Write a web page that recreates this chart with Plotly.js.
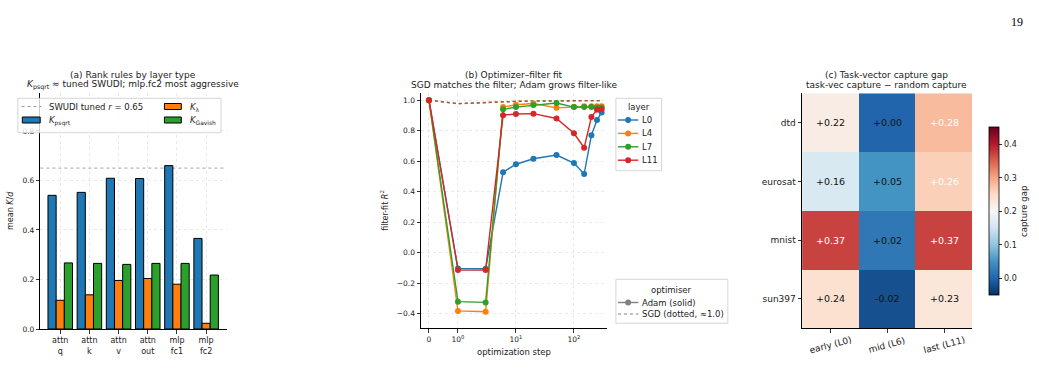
<!DOCTYPE html>
<html>
<head>
<meta charset="utf-8">
<script src="https://cdn.plot.ly/plotly-3.0.1.min.js"></script>
<style>
  html, body { margin: 0; padding: 0; background: #fff; }
  #fig { width: 1039px; height: 379px; }
</style>
</head>
<body>
<div id="fig"></div>
<script>
// ---------- (a) rank rules by layer type ----------
const layerGroup = ['attn', 'attn', 'attn', 'attn', 'mlp', 'mlp'];
const layerPart  = ['q', 'k', 'v', 'out', 'fc1', 'fc2'];
const kPsqrt  = [0.540, 0.552, 0.609, 0.608, 0.660, 0.366];
const kLambda = [0.116, 0.138, 0.196, 0.204, 0.181, 0.023];
const kGavish = [0.267, 0.265, 0.261, 0.265, 0.265, 0.218];
const swudiTuned = 0.65;

// ---------- (b) optimizer-filter fit ----------
const steps = [0, 1, 3, 6, 10, 20, 50, 100, 150, 200, 250, 300];
const layerNames = ['L0', 'L4', 'L7', 'L11'];
const adamL0  = [1.0, -0.105, -0.106, 0.527, 0.580, 0.616, 0.640, 0.588, 0.516, 0.770, 0.870, 0.920];
const adamL4  = [1.0, -0.383, -0.388, 0.955, 0.970, 0.978, 0.950, 0.957, 0.960, 0.960, 0.960, 0.960];
const adamL7  = [1.0, -0.322, -0.327, 0.940, 0.955, 0.968, 0.982, 0.955, 0.955, 0.955, 0.953, 0.953];
const adamL11 = [1.0, -0.115, -0.115, 0.902, 0.910, 0.912, 0.880, 0.783, 0.688, 0.890, 0.938, 0.940];
const sgdL0   = [1.0, 0.979, 0.985, 0.990, 0.993, 0.995, 0.996, 0.997, 0.997, 0.998, 0.998, 0.998];
const sgdL4   = [1.0, 0.977, 0.984, 0.990, 0.993, 0.995, 0.996, 0.997, 0.997, 0.997, 0.998, 0.998];
const sgdL7   = [1.0, 0.978, 0.985, 0.991, 0.994, 0.995, 0.996, 0.997, 0.998, 0.998, 0.998, 0.998];
const sgdL11  = [1.0, 0.976, 0.984, 0.990, 0.993, 0.994, 0.996, 0.997, 0.997, 0.997, 0.998, 0.998];
const stepTicks = [0, 1, 10, 100];
const stepTickText = ['0', '10<sup>0</sup>', '10<sup>1</sup>', '10<sup>2</sup>'];
const optimiserNames = ['Adam (solid)', 'SGD (dotted, ≈1.0)'];

// ---------- (c) task-vector capture gap ----------
const datasets = ['dtd', 'eurosat', 'mnist', 'sun397'];
const depths = ['early (L0)', 'mid (L6)', 'last (L11)'];
const captureGap = [
  [0.22, 0.00, 0.28],
  [0.16, 0.05, 0.26],
  [0.37, 0.02, 0.37],
  [0.24, -0.02, 0.23]
];

// ---------- helpers ----------
const W = 1039, H = 379;
const px = v => v / W;          // pixel x -> paper
const py = v => 1 - v / H;      // pixel y -> paper
const TXT = '#222';
const FONT = 'DejaVu Sans, sans-serif';
const tab = ['#1f77b4', '#ff7f0e', '#2ca02c', '#d62728'];
const GRAY = '#808080';

// symmetric log step axis: linear stretch over [0,1], log10 beyond
const LIN = 0.5;
const symlog = s => (s <= 1 ? s * LIN : LIN + Math.log10(s));

const traces = [];

// panel (a) bars
const xIdx = layerPart.map((_, i) => i);
[[kPsqrt, tab[0]], [kLambda, tab[1]], [kGavish, tab[2]]].forEach(([vals, col]) => {
  traces.push({
    type: 'bar', x: xIdx, y: vals, xaxis: 'x', yaxis: 'y', showlegend: false,
    marker: { color: col, line: { color: '#000', width: 1 } }, hoverinfo: 'y'
  });
});

// panel (b) lines: SGD dotted underneath, Adam solid with markers on top
const adam = [adamL0, adamL4, adamL7, adamL11];
const sgd = [sgdL0, sgdL4, sgdL7, sgdL11];
const xs = steps.map(symlog);
sgd.forEach((vals, i) => {
  traces.push({
    type: 'scatter', mode: 'lines', x: xs, y: vals, xaxis: 'x2', yaxis: 'y2',
    showlegend: false, opacity: 0.6,
    line: { color: tab[i], width: 1.3, dash: 'dot' }, hoverinfo: 'y'
  });
});
adam.forEach((vals, i) => {
  traces.push({
    type: 'scatter', mode: 'lines+markers', x: xs, y: vals, xaxis: 'x2', yaxis: 'y2',
    name: layerNames[i], showlegend: false,
    line: { color: tab[i], width: 1.4 }, marker: { color: tab[i], size: 6 }, hoverinfo: 'y'
  });
});

// panel (c) heatmap, RdBu reversed, centred on 0.2
const rdbuR = [
  [0.0, '#053061'], [0.1, '#2166ac'], [0.2, '#4393c3'], [0.3, '#92c5de'],
  [0.4, '#d1e5f0'], [0.5, '#f7f7f7'], [0.6, '#fddbc7'], [0.7, '#f4a582'],
  [0.8, '#d6604d'], [0.9, '#b2182b'], [1.0, '#67001f']
];
traces.push({
  type: 'heatmap', x: depths, y: datasets, z: captureGap, xaxis: 'x3', yaxis: 'y3',
  colorscale: rdbuR, zmin: -0.05, zmax: 0.45, xgap: 0, ygap: 0,
  hoverinfo: 'z', showlegend: false,
  colorbar: {
    x: px(986.7), xanchor: 'left', xref: 'paper',
    y: py(211.3), yanchor: 'middle',
    thickness: 10, thicknessmode: 'pixels',
    len: 188, lenmode: 'pixels',
    outlinecolor: '#000', outlinewidth: 0.8,
    tickvals: [0, 0.1, 0.2, 0.3, 0.4], ticktext: ['0.0', '0.1', '0.2', '0.3', '0.4'],
    ticks: 'outside', ticklen: 3.5, tickcolor: '#000', tickwidth: 0.8,
    tickfont: { family: FONT, size: 8, color: TXT },
    title: { text: 'capture gap', side: 'right', font: { family: FONT, size: 8.5, color: TXT } }
  }
});

const annotations = [];
const shapes = [];
const note = (x, y, text, opts = {}) => annotations.push(Object.assign({
  xref: 'paper', yref: 'paper', x: px(x), y: py(y), text, showarrow: false,
  xanchor: 'left', yanchor: 'middle', borderpad: 0,
  font: { family: FONT, size: 8.5, color: TXT }
}, opts));

// heatmap cell labels
captureGap.forEach((row, r) => {
  row.forEach((v, c) => {
    const s = (v >= 0 ? '+' : '-') + Math.abs(v).toFixed(2);
    annotations.push({
      xref: 'x3', yref: 'y3', x: depths[c], y: datasets[r], text: s, showarrow: false,
      font: { family: FONT, size: 9.5, color: v > 0.25 ? '#fff' : '#111' }
    });
  });
});
// rotated column labels of the heatmap, centred under each tick
depths.forEach(d => {
  annotations.push({
    xref: 'x3', yref: 'paper', x: d, y: py(345), text: d, showarrow: false,
    xanchor: 'center', yanchor: 'middle', textangle: -15,
    font: { family: FONT, size: 9, color: TXT }
  });
});

// panel titles
const title = (cx, line1, line2) => {
  note(cx, 75, line1, { xanchor: 'center', font: { family: FONT, size: 9, color: TXT } });
  note(cx, 85, line2, { xanchor: 'center', font: { family: FONT, size: 9, color: TXT } });
};
title(134.5, '(a) Rank rules by layer type',
  '<i>K</i><sub>psqrt</sub> ≈ tuned SWUDI; mlp.fc2 most aggressive');
title(518, '(b) Optimizer–filter fit', 'SGD matches the filter; Adam grows filter-like');
title(893, '(c) Task-vector capture gap', 'task-vec capture − random capture');

// tuned SWUDI reference level
shapes.push({ type: 'line', xref: 'x domain', yref: 'y', x0: 0, x1: 1, y0: swudiTuned, y1: swudiTuned,
  line: { color: '#999', width: 0.9, dash: 'dot' }, layer: 'below' });

// legend frames and keys
const frame = (x0, y0, x1, y1) => shapes.push({
  type: 'rect', xref: 'paper', yref: 'paper', x0: px(x0), x1: px(x1), y0: py(y1), y1: py(y0),
  fillcolor: 'rgba(255,255,255,0.8)', line: { color: '#cccccc', width: 0.8 }, layer: 'above'
});
const keyLine = (x0, x1, y, color, dash) => shapes.push({
  type: 'line', xref: 'paper', yref: 'paper', x0: px(x0), x1: px(x1), y0: py(y), y1: py(y),
  line: { color, width: dash ? 1.1 : 1.4, dash: dash || 'solid' }, layer: 'above'
});
const keyDot = (cx, cy, color) => shapes.push({
  type: 'circle', xref: 'paper', yref: 'paper', x0: px(cx - 3), x1: px(cx + 3), y0: py(cy + 3), y1: py(cy - 3),
  fillcolor: color, line: { color, width: 0 }, layer: 'above'
});
const keyBox = (x0, x1, y, color) => shapes.push({
  type: 'rect', xref: 'paper', yref: 'paper', x0: px(x0), x1: px(x1), y0: py(y + 3), y1: py(y - 3),
  fillcolor: color, line: { color: '#000', width: 1 }, layer: 'above'
});

// legend of panel (a): two columns
frame(18, 98.3, 222.7, 132.7);
keyLine(21.7, 41.7, 106.5, '#999', 'dot');
note(48.3, 106.5, 'SWUDI tuned <i>r</i> = 0.65');
keyBox(22.5, 40.5, 120, tab[0]);
note(48.3, 120.5, '<i>K</i><sub>psqrt</sub>');
keyBox(165.7, 182.7, 106.5, tab[1]);
note(190.7, 107, '<i>K</i><sub>λ</sub>');
keyBox(165.7, 182.7, 120, tab[2]);
note(190.7, 120.5, '<i>K</i><sub>Gavish</sub>');

// legend of panel (b): layers
frame(620.7, 98.3, 666.7, 170.7);
note(643.7, 106.7, 'layer', { xanchor: 'center' });
layerNames.forEach((n, i) => {
  const y = 120 + i * 13.4;
  keyLine(622.7, 643.3, y, tab[i]);
  keyDot(633, y, tab[i]);
  note(646, y, n);
});

// legend of panel (b): optimisers
frame(620.7, 279.3, 733.5, 323.3);
note(677, 290, 'optimiser', { xanchor: 'center' });
keyLine(622.7, 643.3, 302.5, GRAY);
keyDot(633, 302.5, GRAY);
note(646, 302.5, optimiserNames[0]);
keyLine(622.7, 643.3, 314, GRAY, 'dot');
note(646, 314, optimiserNames[1]);

// page number
note(1025, 22, '19', { xanchor: 'center', font: { family: 'Liberation Serif, serif', size: 12, color: '#000' } });

const gridCommon = { showgrid: true, gridcolor: '#e4e4e4', griddash: 'dot', gridwidth: 0.8, zeroline: false };
const axisCommon = {
  showline: true, linecolor: '#000', linewidth: 1, ticks: 'outside', ticklen: 3.5,
  tickcolor: '#000', tickwidth: 0.8, tickfont: { family: FONT, size: 7.5, color: TXT }
};

const layout = {
  width: W, height: H,
  margin: { l: 0, r: 0, t: 0, b: 0 },
  paper_bgcolor: '#fff', plot_bgcolor: '#fff',
  font: { family: FONT, color: TXT },
  showlegend: false,
  barmode: 'group', bargap: 0.16, bargroupgap: 0,
  xaxis: Object.assign({}, axisCommon, gridCommon, {
    domain: [px(40.7), px(228.3)], anchor: 'y', range: [-0.68, 5.7],
    tickvals: xIdx, ticktext: layerGroup.map((g, i) => g + '<br>' + layerPart[i]),
    tickfont: { family: FONT, size: 8, color: TXT }
  }),
  yaxis: Object.assign({}, axisCommon, gridCommon, {
    domain: [py(329), py(92.6)], anchor: 'x', range: [0, 0.955],
    tickvals: [0, 0.2, 0.4, 0.6, 0.8], ticktext: ['0.0', '0.2', '0.4', '0.6', '0.8'],
    title: { text: 'mean <i>K</i>/<i>d</i>', standoff: 7, font: { family: FONT, size: 8, color: TXT } }
  }),
  xaxis2: Object.assign({}, axisCommon, gridCommon, {
    domain: [px(424.3), px(611.7)], anchor: 'y2', range: [-0.137, 3.07],
    tickvals: stepTicks.map(symlog), ticktext: stepTickText,
    title: { text: 'optimization step', standoff: 6, font: { family: FONT, size: 8.5, color: TXT } }
  }),
  yaxis2: Object.assign({}, axisCommon, gridCommon, {
    domain: [py(328.3), py(92.6)], anchor: 'x2', range: [-0.497, 1.05],
    tickvals: [-0.4, -0.2, 0, 0.2, 0.4, 0.6, 0.8, 1.0],
    ticktext: ['−0.4', '−0.2', '0.0', '0.2', '0.4', '0.6', '0.8', '1.0'],
    title: { text: 'filter-fit <i>R</i><sup>2</sup>', standoff: 7, font: { family: FONT, size: 8, color: TXT } }
  }),
  xaxis3: Object.assign({}, axisCommon, {
    domain: [px(808.3), px(980)], anchor: 'y3', type: 'category', range: [-0.5, 2.5],
    showgrid: false, zeroline: false, showticklabels: false
  }),
  yaxis3: Object.assign({}, axisCommon, {
    domain: [py(328.3), py(93.3)], anchor: 'x3', type: 'category', range: [3.5, -0.5],
    showgrid: false, zeroline: false,
    tickfont: { family: FONT, size: 9, color: TXT }
  }),
  shapes,
  annotations
};

Plotly.newPlot('fig', traces, layout, { staticPlot: true, displayModeBar: false });
</script>
</body>
</html>
